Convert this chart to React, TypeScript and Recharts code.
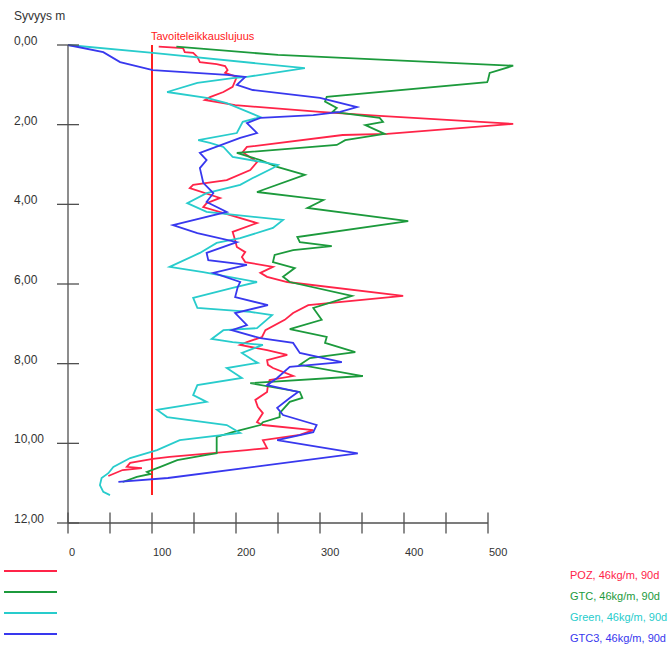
import React from 'react';
import { ScatterChart, Scatter, XAxis, YAxis, ReferenceLine } from 'recharts';

// ---------- data ----------
const pozValue = [108,137,139,149,154,157,177,187,190,187,201,196,185,169,163,199,300,371,530,380,327,213,208,225,217,189,149,145,181,165,161,225,196,199,201,211,207,211,244,229,237,261,399,286,268,258,235,231,213,205,237,261,237,238,244,268,240,238,237,223,226,232,225,232,292,276,232,237,213,121,101,74,70,88,65,48];
const pozDepth = [0.04,0.08,0.18,0.20,0.30,0.43,0.48,0.53,0.63,0.70,0.80,1.05,1.18,1.31,1.38,1.51,1.68,1.78,1.98,2.23,2.26,2.56,2.69,2.94,3.14,3.39,3.51,3.59,3.84,3.97,4.07,4.47,4.69,4.90,5.07,5.20,5.32,5.45,5.57,5.72,5.82,5.95,6.30,6.53,6.73,6.90,7.16,7.33,7.46,7.53,7.66,7.78,7.91,8.03,8.11,8.31,8.41,8.54,8.71,8.91,9.09,9.24,9.47,9.54,9.67,9.79,9.92,10.12,10.17,10.34,10.39,10.49,10.59,10.62,10.67,10.82];

const gtcValue = [129,250,530,502,500,499,308,306,320,315,371,375,354,377,330,320,201,229,249,282,225,304,285,405,273,276,314,268,246,244,270,256,264,338,292,302,264,308,306,342,288,276,351,217,276,279,264,252,252,232,229,196,177,177,177,165,130,110,94,98,82,65];
const gtcDepth = [0.04,0.25,0.52,0.70,0.88,0.93,1.30,1.42,1.58,1.68,1.83,1.93,2.01,2.23,2.39,2.51,2.71,2.89,3.06,3.26,3.69,3.89,4.09,4.42,4.82,4.95,5.05,5.15,5.27,5.45,5.60,5.82,5.95,6.30,6.60,6.90,7.13,7.33,7.48,7.71,7.86,8.03,8.31,8.49,8.71,8.86,8.96,9.24,9.34,9.47,9.54,9.72,9.84,10.12,10.25,10.29,10.42,10.59,10.72,10.77,10.84,10.97];

const greenValue = [0,101,282,213,196,154,118,165,189,229,208,201,155,169,185,196,250,244,220,205,165,142,165,256,244,205,177,157,121,161,225,196,149,154,217,243,225,185,171,196,232,207,220,226,189,207,154,149,165,106,118,189,205,133,106,74,54,48,40,38,42,50];
const greenDepth = [0,0.20,0.58,0.80,0.83,0.95,1.18,1.33,1.46,1.81,1.93,2.21,2.39,2.46,2.56,2.81,3.01,3.09,3.34,3.51,3.72,3.97,4.19,4.39,4.59,4.85,4.97,5.22,5.57,5.70,5.95,6.10,6.35,6.60,6.70,6.78,7.11,7.16,7.38,7.46,7.53,7.73,7.91,7.98,8.11,8.36,8.54,8.79,8.96,9.16,9.34,9.54,9.74,9.92,10.17,10.37,10.59,10.75,10.87,11.05,11.22,11.30];

const gtc3Value = [0,42,62,101,189,211,201,220,300,344,324,292,229,213,225,205,157,165,157,161,173,165,189,125,154,201,165,167,213,173,205,202,199,238,199,213,195,229,268,276,326,264,249,237,274,264,249,256,296,292,249,345,119,60];
const gtc3Depth = [0,0.18,0.43,0.63,0.75,0.80,1.00,1.13,1.33,1.56,1.68,1.76,1.83,1.96,2.21,2.33,2.71,2.89,3.09,3.46,3.72,3.94,4.19,4.52,4.72,4.95,5.22,5.40,5.52,5.72,5.95,6.08,6.33,6.53,6.73,7.03,7.16,7.36,7.48,7.73,7.96,8.08,8.36,8.54,8.71,8.86,9.11,9.29,9.54,9.72,9.92,10.25,10.87,10.97];

const seriesNames = ['POZ, 46kg/m, 90d', 'GTC, 46kg/m, 90d', 'Green, 46kg/m, 90d', 'GTC3, 46kg/m, 90d'];
const seriesColors = ['#ff2448', '#1c9a3c', '#28cccc', '#3838ee'];

const xTicks = [0, 50, 100, 150, 200, 250, 300, 350, 400, 450, 500];
const yTicks = [0, 2, 4, 6, 8, 10, 12];
const targetValue = 100;
const targetDepthRange = [0, 11.3];
const targetLabel = 'Tavoiteleikkauslujuus';
const yTitle = 'Syvyys m';

// ---------- styles ----------
const FONT = '"Liberation Sans", Arial, sans-serif';
const AXIS = '#505050';
const TEXT = '#333333';
const TARGET = '#ff2020';

const toPoints = (vals: number[], deps: number[]) => vals.map((v, i) => ({ v, d: deps[i] }));
const series = [
  toPoints(pozValue, pozDepth),
  toPoints(gtcValue, gtcDepth),
  toPoints(greenValue, greenDepth),
  toPoints(gtc3Value, gtc3Depth),
];

const XTick = (props: any) => {
  const { x, y, payload } = props;
  const v = payload.value;
  return (
    <g>
      <line x1={x} x2={x} y1={y - 10.5} y2={y + 10.5} stroke={AXIS} strokeWidth={1.3} />
      {v % 100 === 0 && (
        <text x={x + 1} y={y + 33} fontSize={11} fill={TEXT} fontFamily={FONT}>
          {v}
        </text>
      )}
    </g>
  );
};

const YTick = (props: any) => {
  const { x, y, payload } = props;
  return (
    <g>
      <line x1={x - 11} x2={x + 11} y1={y} y2={y} stroke={AXIS} strokeWidth={1.3} />
      <text x={x - 54} y={y} fontSize={12} fill={TEXT} fontFamily={FONT}>
        {payload.value.toFixed(2).replace('.', ',')}
      </text>
    </g>
  );
};

const NoShape = () => <g />;

export default function App() {
  return (
    <div style={{ position: 'absolute', left: 0, top: 0, width: 672, height: 645, background: '#fff' }}>
      <ScatterChart width={672} height={645} margin={{ top: 45, right: 142, bottom: 92, left: 8 }}>
        <XAxis
          type="number"
          dataKey="v"
          domain={[0, 550]}
          ticks={xTicks}
          axisLine={false}
          tickLine={false}
          tickSize={0}
          tickMargin={0}
          tick={<XTick />}
          height={30}
          interval={0}
        />
        <YAxis
          type="number"
          dataKey="d"
          domain={[0, 12]}
          reversed
          ticks={yTicks}
          width={60}
          axisLine={{ stroke: AXIS, strokeWidth: 1.3 }}
          tickLine={false}
          tickSize={0}
          tickMargin={0}
          tick={<YTick />}
          interval={0}
          label={(p: any) => {
            const vb = p.viewBox || {};
            return (
              <text x={(vb.x ?? 8) + 6} y={(vb.y ?? 45) - 25} fontSize={12} fill={TEXT} fontFamily={FONT}>
                {yTitle}
              </text>
            );
          }}
        />
        <ReferenceLine
          segment={[{ x: 0, y: 12 }, { x: 500, y: 12 }]}
          stroke={AXIS}
          strokeWidth={1.3}
        />
        {series.map((data, i) => (
          <Scatter
            key={seriesNames[i]}
            name={seriesNames[i]}
            data={data}
            fill={seriesColors[i]}
            line={{ stroke: seriesColors[i], strokeWidth: 1.8 }}
            shape={NoShape}
            isAnimationActive={false}
          />
        ))}
        <ReferenceLine
          segment={[{ x: targetValue, y: targetDepthRange[0] }, { x: targetValue, y: targetDepthRange[1] }]}
          stroke={TARGET}
          strokeWidth={2}
          label={(p: any) => {
            const vb = p.viewBox || {};
            const x = vb.x ?? vb.x1 ?? 152;
            const y = vb.y ?? Math.min(vb.y1 ?? 45, vb.y2 ?? 45);
            return (
              <text x={x - 1} y={y - 5} fontSize={11} fill={TARGET} fontFamily={FONT}>
                {targetLabel}
              </text>
            );
          }}
        />
      </ScatterChart>
      {seriesNames.map((name, i) => (
        <React.Fragment key={name}>
          <div
            style={{
              position: 'absolute',
              left: 4,
              top: 569.5 + i * 21,
              width: 53,
              height: 2,
              background: seriesColors[i],
            }}
          />
          <div
            style={{
              position: 'absolute',
              left: 570,
              top: 568 + i * 21,
              fontSize: 11,
              lineHeight: '14px',
              color: seriesColors[i],
              fontFamily: FONT,
              whiteSpace: 'nowrap',
            }}
          >
            {name}
          </div>
        </React.Fragment>
      ))}
    </div>
  );
}
